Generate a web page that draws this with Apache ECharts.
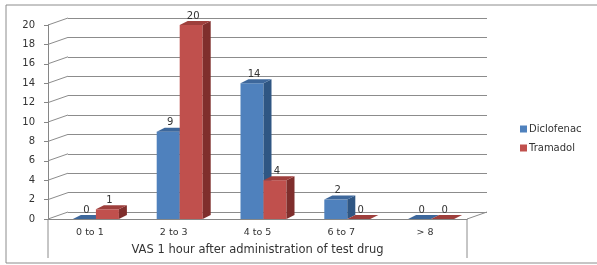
<!DOCTYPE html>
<html>
<head>
<meta charset="utf-8">
<script src="https://cdn.jsdelivr.net/npm/echarts@6/dist/echarts.min.js"></script>
<style>
  html, body { margin: 0; padding: 0; background: #fff; }
  #chart { width: 597px; height: 265px; }
</style>
</head>
<body>
<div id="chart"></div>
<script>
const categories = ["0 to 1", "2 to 3", "4 to 5", "6 to 7", "> 8"];
const diclofenac = [0, 9, 14, 2, 0];
const tramadol = [1, 20, 4, 0, 0];
const yTicks = [0, 2, 4, 6, 8, 10, 12, 14, 16, 18, 20];

const DEPTH_X = 8, DEPTH_Y = -4;
const WALL_X = 20, WALL_Y = -7;
const FONT = "DejaVu Sans";

// one 3d-looking bar: front face, side face, top face, value label
function bar3d(front, side, top, offL, offR) {
  return function (params, api) {
    const cat = api.value(0);
    const v = api.value(1);
    const base = api.coord([cat, 0]);
    const tip = api.coord([cat, v]);
    const x0 = base[0] + offL, x1 = base[0] + offR;
    const y0 = base[1], y1 = tip[1];
    const children = [];
    if (y0 - y1 > 0.5) {
      children.push({ type: "rect", shape: { x: x0, y: y1, width: x1 - x0, height: y0 - y1 }, style: { fill: front } });
      children.push({ type: "polygon", shape: { points: [[x1, y1], [x1 + DEPTH_X, y1 + DEPTH_Y], [x1 + DEPTH_X, y0 + DEPTH_Y], [x1, y0]] }, style: { fill: side } });
    }
    children.push({ type: "polygon", shape: { points: [[x0, y1], [x0 + DEPTH_X, y1 + DEPTH_Y], [x1 + DEPTH_X, y1 + DEPTH_Y], [x1, y1]] }, style: { fill: top } });
    children.push({
      type: "text",
      style: {
        x: (x0 + x1) / 2 + 2, y: y1 - 4, text: String(v),
        align: "center", verticalAlign: "bottom",
        fill: "#333", font: "10px " + FONT
      }
    });
    return { type: "group", children: children };
  };
}

const chart = echarts.init(document.getElementById("chart"));
const option = {
  animation: false,
  backgroundColor: "#fff",
  textStyle: { fontFamily: FONT },
  graphic: [
    { type: "rect", shape: { x: 6, y: 5, width: 620, height: 258 }, style: { fill: null, stroke: "#8c8c8c", lineWidth: 1 }, silent: true }
  ],
  legend: {
    orient: "vertical",
    left: 515,
    top: 119,
    itemWidth: 7,
    itemHeight: 7,
    itemGap: 9,
    icon: "rect",
    textStyle: { fontSize: 10, color: "#333", fontFamily: FONT, padding: [0, 0, 0, -3] },
    data: ["Diclofenac", "Tramadol"]
  },
  grid: [
    { left: 68, top: 18, width: 419, height: 194 },
    { left: 48, top: 25, width: 419, height: 194 }
  ],
  xAxis: [
    { gridIndex: 0, type: "category", data: categories, show: false },
    {
      gridIndex: 1, type: "category", data: categories,
      axisLine: { lineStyle: { color: "#868686" } },
      axisTick: { length: 21, interval: 0, lineStyle: { color: "#868686" } },
      axisLabel: { margin: 9, fontSize: 9.5, color: "#333", fontFamily: FONT },
      name: "VAS 1 hour after administration of test drug",
      nameLocation: "middle",
      nameGap: 25,
      nameTextStyle: { fontSize: 11.5, color: "#333", fontFamily: FONT }
    }
  ],
  yAxis: [
    {
      gridIndex: 0, type: "value", min: 0, max: 20, interval: 2,
      axisLine: { show: false }, axisTick: { show: false }, axisLabel: { show: false },
      splitLine: { lineStyle: { color: "#8c8c8c" } }
    },
    {
      gridIndex: 1, type: "value", min: 0, max: 20, interval: 2,
      axisLine: { show: true, lineStyle: { color: "#868686" } },
      axisTick: { show: true, length: 4, lineStyle: { color: "#868686" } },
      axisLabel: { margin: 13, fontSize: 10, color: "#333", fontFamily: FONT, padding: [5, 0, 0, 0] },
      splitLine: { show: false }
    }
  ],
  series: [
    {
      // diagonal edges of the side wall, one per tick
      name: "wall", type: "custom", xAxisIndex: 1, yAxisIndex: 1, silent: true,
      data: yTicks.map(v => [0, v]),
      renderItem: function (params, api) {
        const cs = params.coordSys;
        const y = api.coord([0, api.value(1)])[1];
        return { type: "line", shape: { x1: cs.x, y1: y, x2: cs.x + WALL_X, y2: y + WALL_Y }, style: { stroke: "#8c8c8c", lineWidth: 1 } };
      }
    },
    {
      // floor right edge and table verticals below axis
      name: "floor", type: "custom", xAxisIndex: 1, yAxisIndex: 1, silent: true,
      data: [[0, 0]],
      renderItem: function (params, api) {
        const cs = params.coordSys;
        const yb = cs.y + cs.height;
        const st = { stroke: "#8c8c8c", lineWidth: 1 };
        return {
          type: "group", children: [
            { type: "line", shape: { x1: cs.x + cs.width, y1: yb, x2: cs.x + cs.width + WALL_X, y2: yb + WALL_Y }, style: st },
            { type: "line", shape: { x1: cs.x, y1: yb, x2: cs.x, y2: yb + 39 }, style: st },
            { type: "line", shape: { x1: cs.x + cs.width, y1: yb, x2: cs.x + cs.width, y2: yb + 39 }, style: st }
          ]
        };
      }
    },
    {
      name: "Diclofenac", type: "custom", xAxisIndex: 1, yAxisIndex: 1,
      itemStyle: { color: "#4F81BD" },
      data: diclofenac.map((v, i) => [i, v]),
      renderItem: bar3d("#4F81BD", "#2F5683", "#3D679B", -17, 6)
    },
    {
      name: "Tramadol", type: "custom", xAxisIndex: 1, yAxisIndex: 1,
      itemStyle: { color: "#C0504D" },
      data: tramadol.map((v, i) => [i, v]),
      renderItem: bar3d("#C0504D", "#7F2E2C", "#9E3F3C", 6, 29)
    }
  ]
};
chart.setOption(option);
</script>
</body>
</html>
